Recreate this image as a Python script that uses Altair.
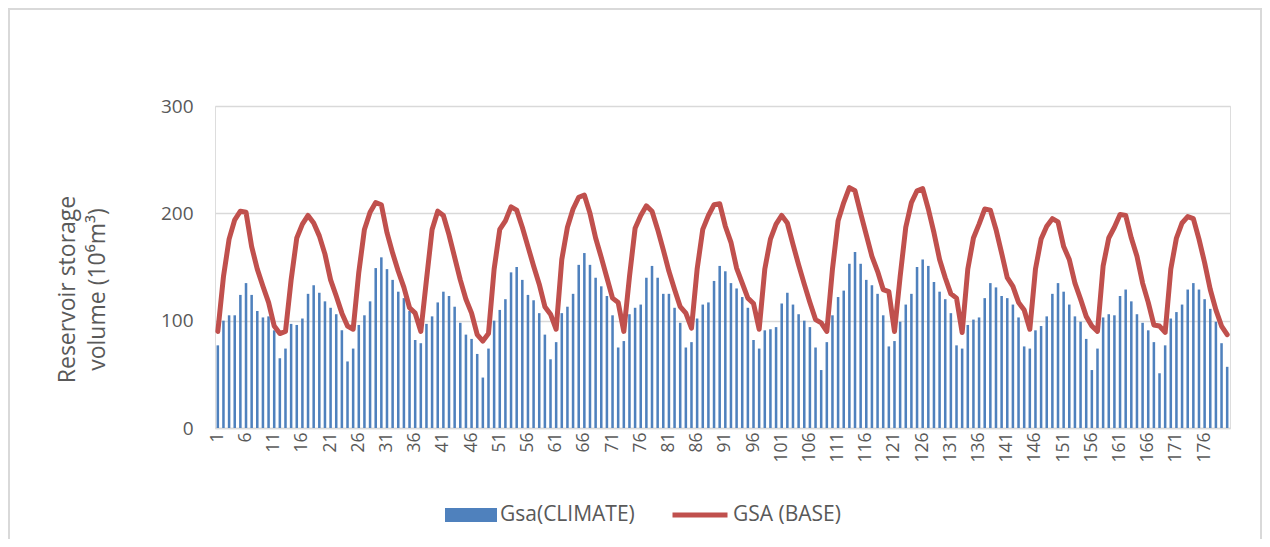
import altair as alt
import pandas as pd

months = list(range(1, 181))

gsa_climate = [
    77, 100, 105, 105, 124, 135, 124, 109, 103, 104, 91, 65, 74, 97, 96, 102, 125, 133, 126, 118, 112, 106, 91, 62, 74, 96, 105, 118, 149, 159,
    148, 138, 127, 121, 109, 82, 79, 97, 104, 117, 127, 123, 113, 98, 87, 83, 69, 47, 74, 100, 110, 120, 145, 150, 138, 124, 119, 107, 87, 64,
    80, 107, 113, 125, 152, 163, 152, 140, 132, 123, 105, 75, 81, 106, 112, 115, 140, 151, 140, 125, 125, 112, 98, 75, 80, 102, 115, 117, 137, 151,
    146, 135, 130, 122, 112, 82, 74, 91, 92, 94, 116, 126, 115, 106, 100, 94, 75, 54, 80, 105, 122, 128, 153, 164, 153, 138, 133, 125, 105, 76,
    81, 99, 115, 125, 150, 157, 151, 136, 127, 120, 107, 77, 74, 96, 101, 103, 121, 135, 131, 123, 121, 115, 103, 76, 74, 91, 95, 104, 125, 135,
    127, 115, 104, 99, 83, 54, 74, 103, 106, 105, 123, 129, 118, 106, 98, 91, 80, 51, 77, 102, 108, 115, 129, 135, 129, 120, 111, 99, 79, 57,
]

gsa_base = [
    90, 141, 176, 194, 202, 201, 169, 148, 132, 117, 95, 88, 90, 138, 177, 190, 198, 191, 179, 162, 138, 123, 107, 95, 92, 145, 185, 201, 210, 208,
    182, 163, 146, 131, 112, 107, 90, 138, 185, 202, 198, 180, 159, 138, 120, 107, 87, 81, 88, 148, 185, 193, 206, 203, 187, 169, 151, 134, 113, 106,
    92, 157, 187, 204, 215, 217, 200, 177, 159, 140, 121, 117, 90, 141, 186, 198, 207, 202, 185, 166, 146, 129, 113, 107, 93, 148, 185, 198, 208, 209,
    188, 173, 149, 135, 121, 116, 92, 148, 176, 190, 198, 191, 171, 152, 134, 117, 101, 98, 90, 148, 193, 210, 224, 221, 200, 180, 160, 146, 129, 127,
    90, 141, 187, 210, 221, 223, 204, 182, 157, 140, 125, 121, 89, 148, 177, 190, 204, 203, 185, 163, 140, 132, 117, 110, 92, 148, 176, 188, 195, 192,
    169, 157, 135, 120, 104, 95, 90, 151, 177, 187, 199, 198, 177, 160, 135, 117, 96, 95, 89, 148, 177, 191, 197, 195, 176, 154, 129, 110, 95, 87,
]

x_tick_labels = list(range(1, 181, 5))
y_ticks = [0, 100, 200, 300]

series_climate = "Gsa(CLIMATE)"
series_base = "GSA (BASE)"

df = pd.DataFrame({
    "month": months,
    "climate": gsa_climate,
    "base": gsa_base,
    "s_climate": [series_climate] * len(months),
    "s_base": [series_base] * len(months),
})

TEXT = "#595959"
GRID = "#d9d9d9"
FONT = "Open Sans"

x_enc = alt.X(
    "month:O",
    scale=alt.Scale(paddingInner=0.55, paddingOuter=0.275),
    axis=alt.Axis(
        values=x_tick_labels,
        labelAngle=270,
        labelFontSize=17.5,
        labelColor=TEXT,
        labelFont=FONT,
        labelPadding=4,
        ticks=False,
        domainColor=GRID,
        domainWidth=1.5,
        title=None,
        labelOverlap=False,
    ),
)

y_scale = alt.Scale(domain=[0, 300], nice=False)

bars = alt.Chart(df).mark_bar(opacity=1).encode(
    x=x_enc,
    y=alt.Y(
        "climate:Q",
        scale=y_scale,
        axis=alt.Axis(
            values=y_ticks,
            labelFontSize=19,
            labelColor=TEXT,
            labelFont=FONT,
            labelPadding=22,
            ticks=False,
            domain=False,
            gridColor=GRID,
            gridWidth=1.3,
            title=["Reservoir storage", "volume (10\u2076m\u00b3)"],
            titleFontSize=23,
            titleFont=FONT,
            titleFontWeight="normal",
            titleColor=TEXT,
            titlePadding=51,
            titleLineHeight=30,
            titleY=183,
        ),
    ),
    color=alt.Color(
        "s_climate:N",
        scale=alt.Scale(domain=[series_climate], range=["#4f81bd"]),
        legend=alt.Legend(
            title=None,
            orient="none",
            legendX=230,
            legendY=383,
            symbolType="M-1,-0.27H1V0.27H-1Z",
            symbolSize=2704,
            symbolStrokeWidth=0,
            labelFontSize=21,
            labelFont=FONT,
            labelColor=TEXT,
            labelOffset=3,
            padding=0,
        ),
    ),
)

line = alt.Chart(df).mark_line(strokeWidth=5, strokeJoin="round", strokeCap="round").encode(
    x=alt.X("month:O"),
    y=alt.Y("base:Q", scale=y_scale),
    stroke=alt.Stroke(
        "s_base:N",
        scale=alt.Scale(domain=[series_base], range=["#c0504d"]),
        legend=alt.Legend(
            title=None,
            orient="none",
            legendX=455,
            legendY=379,
            symbolType="stroke",
            symbolSize=3025,
            symbolStrokeWidth=5,
            labelFontSize=21,
            labelFont=FONT,
            labelColor=TEXT,
            labelOffset=3,
            padding=0,
        ),
    ),
)

frame = alt.Chart(df).mark_rect(fill=None, stroke="#d9d9d9", strokeWidth=1.5).encode(
    x=alt.value(-206),
    x2=alt.value(1046),
    y=alt.value(-97),
    y2=alt.value(460),
)

chart = alt.layer(frame, bars, line).properties(
    width=1015,
    height=322,
    autosize=alt.AutoSizeParams(type="none"),
    padding={"left": 207, "top": 98, "right": 32, "bottom": 111},
).configure_view(stroke=None).configure(background="white")

chart.save("out.html", embed_options={"renderer": "svg", "actions": False})
